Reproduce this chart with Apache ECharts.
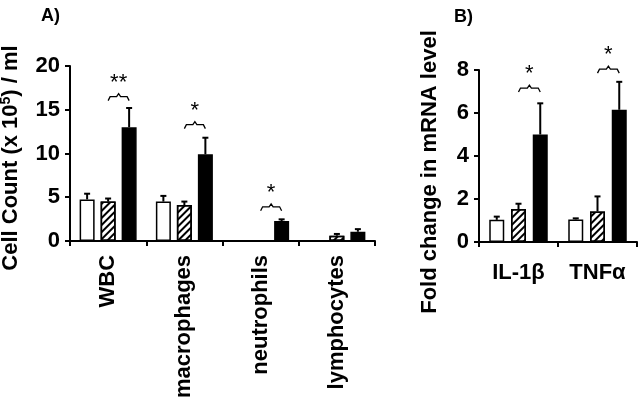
<!DOCTYPE html>
<html><head><meta charset="utf-8">
<script src="https://cdn.jsdelivr.net/npm/echarts@6/dist/echarts.min.js"></script>
<style>html,body{margin:0;padding:0;background:#fff}#c{width:640px;height:401px}</style>
</head><body><div id="c"></div>
<script>
// Panel A data
const catsA = ['WBC', 'macrophages', 'neutrophils', 'lymphocytes'];
const whiteA = [4.75, 4.5, 0, 0];
const whiteErrA = [0.65, 0.65, 0, 0];
const hatchA = [4.5, 4.1, 0, 0.6];
const hatchErrA = [0.35, 0.4, 0, 0.2];
const blackA = [13.0, 9.9, 2.27, 1.05];
const blackErrA = [2.2, 1.9, 0.2, 0.3];
const sigCatA = [0, 1, 2];
const sigLevelA = [16.5, 13.3, 3.9];
const sigLabelA = ['**', '*', '*'];
const ticksA = [0, 5, 10, 15, 20];

// Panel B data
const catsB = ['IL-1β', 'TNFα'];
const whiteB = [1.03, 1.05];
const whiteErrB = [0.15, 0.05];
const hatchB = [1.53, 1.42];
const hatchErrB = [0.25, 0.7];
const blackB = [5.0, 6.15];
const blackErrB = [1.45, 1.3];
const sigCatB = [0, 1];
const sigLevelB = [7.16, 8.04];
const sigLabelB = ['*', '*'];
const ticksB = [0, 2, 4, 6, 8];

const FONT = 'Liberation Sans, Arial, sans-serif';

function errSeries(ax, vals, errs, off) {
  return {
    type: 'custom', xAxisIndex: ax, yAxisIndex: ax, z: 1,
    data: vals.map((v, i) => [i, v, errs[i]]),
    renderItem: function (params, api) {
      const i = api.value(0), v = api.value(1), e = api.value(2);
      if (e <= 0) return null;
      const p0 = api.coord([i, v]);
      const p1 = api.coord([i, v + e]);
      const x = p0[0] + off;
      return {
        type: 'group', children: [
          { type: 'line', shape: { x1: x, y1: p0[1], x2: x, y2: p1[1] }, style: { stroke: '#000', lineWidth: 2 } },
          { type: 'line', shape: { x1: x - 3, y1: p1[1], x2: x + 3, y2: p1[1] }, style: { stroke: '#000', lineWidth: 2 } }
        ]
      };
    }
  };
}

function sigSeries(ax, cats, levels, labels, step) {
  return {
    type: 'custom', xAxisIndex: ax, yAxisIndex: ax, z: 5,
    data: cats.map((c, i) => [c, levels[i]]),
    renderItem: function (params, api) {
      const p = api.coord([api.value(0), api.value(1)]);
      const x1 = p[0], x2 = p[0] + step, y = p[1], xm = (x1 + x2) / 2;
      return {
        type: 'group', children: [
          { type: 'polyline', shape: { points: [[x1, y + 4], [x1 + 2, y], [xm - 2, y], [xm, y - 3], [xm + 2, y], [x2 - 2, y], [x2, y + 4]] },
            style: { stroke: '#000', lineWidth: 1.3, fill: null } },
          { type: 'text', style: { text: labels[params.dataIndex], x: xm, y: y - 3, align: 'center', verticalAlign: 'bottom',
            font: '22px ' + FONT, fill: '#000' } }
        ]
      };
    }
  };
}

const chart = echarts.init(document.getElementById('c'));
const catAxis = (idx, data, rot, margin) => ({
  type: 'category', gridIndex: idx, data: data,
  axisLine: { lineStyle: { color: '#000', width: 2 } },
  axisTick: { show: true, length: 5, lineStyle: { color: '#000', width: 2 } },
  axisLabel: { rotate: rot, margin: margin, color: '#000', fontWeight: 'bold', fontSize: 22, fontFamily: FONT },
  splitLine: { show: false }
});
const valAxis = (idx, max, interval) => ({
  type: 'value', gridIndex: idx, min: 0, max: max, interval: interval,
  axisLine: { show: true, lineStyle: { color: '#000', width: 2 } },
  axisTick: { show: true, length: 5, lineStyle: { color: '#000', width: 2 } },
  axisLabel: { color: '#000', fontWeight: 'bold', fontSize: 22, fontFamily: FONT, margin: 10 },
  splitLine: { show: false }
});

const hatchDecal = { symbol: 'rect', symbolSize: 1, color: '#000', dashArrayX: [1, 0], dashArrayY: [2, 3], rotation: -Math.PI / 4 };
const bar = (ax, data, kind, bw, gap) => ({
  type: 'bar', xAxisIndex: ax, yAxisIndex: ax, data: data, barWidth: bw, barGap: gap,
  itemStyle: kind === 'black' ? { color: '#000', borderColor: '#000', borderWidth: 1.5 }
    : kind === 'hatch' ? { color: '#fff', borderColor: '#000', borderWidth: 1.5, decal: hatchDecal }
    : { color: '#fff', borderColor: '#000', borderWidth: 1.5 }
});

chart.setOption({
  animation: false,
  aria: { enabled: false, decal: { show: false } },
  grid: [
    { left: 70, top: 66, width: 305, height: 176 },
    { left: 479, top: 70, width: 158, height: 172 }
  ],
  xAxis: [catAxis(0, catsA, 90, 14), catAxis(1, catsB, 0, 20)],
  yAxis: [valAxis(0, 20, 5), valAxis(1, 8, 2)],
  title: [
    { text: 'A)', left: 36, top: 2, textStyle: { fontSize: 18, fontWeight: 'bold', color: '#000', fontFamily: FONT } },
    { text: 'B)', left: 449, top: 3, textStyle: { fontSize: 18, fontWeight: 'bold', color: '#000', fontFamily: FONT } }
  ],
  graphic: [
    { type: 'text', x: 11, y: 158, rotation: Math.PI / 2,
      style: { text: '{a|Cell Count (x 10}{s|5}{a|) / ml}', align: 'center', verticalAlign: 'middle',
        rich: { a: { fontSize: 22, fontWeight: 'bold', fontFamily: FONT, fill: '#000', color: '#000' },
                s: { fontSize: 14, fontWeight: 'bold', fontFamily: FONT, fill: '#000', color: '#000', verticalAlign: 'top', padding: [0, 0, 10, 0] } } } },
    { type: 'text', x: 430, y: 172, rotation: Math.PI / 2,
      style: { text: 'Fold change in mRNA level', align: 'center', verticalAlign: 'middle',
        font: 'bold 22px ' + FONT, fill: '#000' } }
  ],
  series: [
    bar(0, whiteA, 'white', 15, '40%'), bar(0, hatchA, 'hatch', 15, '40%'), bar(0, blackA, 'black', 15, '40%'),
    errSeries(0, whiteA, whiteErrA, -21), errSeries(0, hatchA, hatchErrA, 0), errSeries(0, blackA, blackErrA, 21),
    sigSeries(0, sigCatA, sigLevelA, sigLabelA, 21),
    bar(1, whiteB, 'white', 15, '45%'), bar(1, hatchB, 'hatch', 15, '45%'), bar(1, blackB, 'black', 15, '45%'),
    errSeries(1, whiteB, whiteErrB, -21.75), errSeries(1, hatchB, hatchErrB, 0), errSeries(1, blackB, blackErrB, 21.75),
    sigSeries(1, sigCatB, sigLevelB, sigLabelB, 21.75)
  ]
});
</script></body></html>
